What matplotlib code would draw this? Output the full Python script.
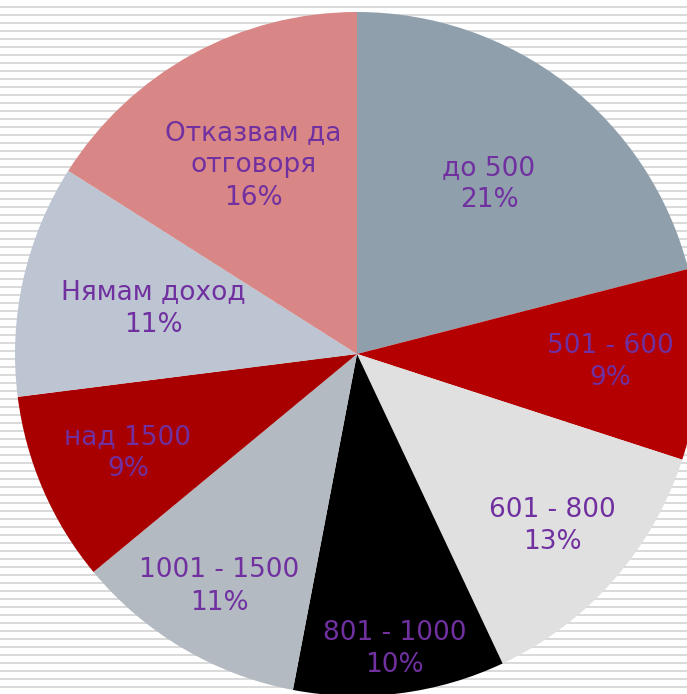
import numpy as np
import matplotlib
matplotlib.use('Agg')
import matplotlib.pyplot as plt

# Data
labels = ['до 500', '501 - 600', '601 - 800', '801 - 1000', '1001 - 1500',
          'над 1500', 'Нямам доход', 'Отказвам да\nотговоря']
shares = [21, 9, 13, 10, 11, 9, 11, 16]
colors = ['#8F9FAC', '#B40000', '#E0E0E0', '#000000', '#B4BAC2',
          '#A80000', '#BDC5D2', '#D98686']
# how far out each label sits (fraction of radius)
label_dist = [0.63, 0.74, 0.76, 0.87, 0.79, 0.73, 0.61, 0.63]

W, H = 687, 694
fig = plt.figure(figsize=(W / 100, H / 100), dpi=100)
ax = fig.add_axes([0, 0, 1, 1])

# Striped background, 2px lines every 8px
ax.hlines(np.arange(H - 7, 0, -8), 0, W, color='#DADADA', lw=1.44, zorder=0)

cx, cy, r = 357, H - 354, 342
wedges, _ = ax.pie(shares, colors=colors, startangle=90, counterclock=False,
                   center=(cx, cy), radius=r, frame=True,
                   wedgeprops=dict(linewidth=0, zorder=2))
ax.set_xlim(0, W)
ax.set_ylim(0, H)
ax.set_aspect('equal')
ax.axis('off')

# Labels
for w, lab, val, d in zip(wedges, labels, shares, label_dist):
    ang = np.deg2rad((w.theta1 + w.theta2) / 2)
    x = cx + d * r * np.cos(ang)
    y = cy + d * r * np.sin(ang)
    ax.text(x, y, f'{lab}\n{val}%', ha='center', va='center', fontsize=19,
            color='#7030A0', linespacing=1.32, zorder=3)

plt.savefig('out.png', dpi=100)
